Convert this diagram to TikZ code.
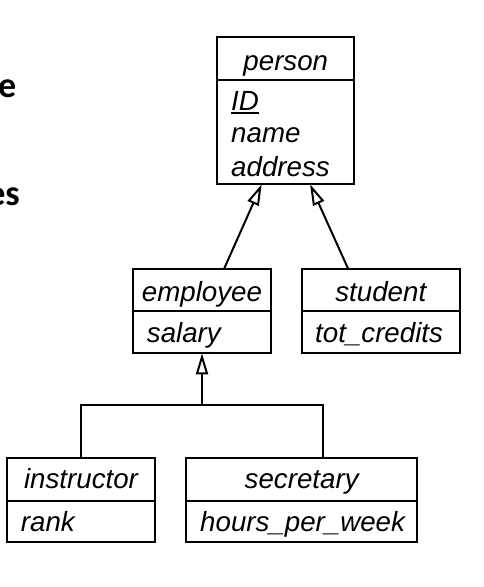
\documentclass[tikz,border=0pt]{standalone}
\usepackage{fontspec}
\setmainfont{Liberation Sans}
\newfontfamily\slidefont{Carlito}
\usetikzlibrary{arrows.meta,calc}

\newcommand\umlfont{\fontsize{27.7}{33}\selectfont\itshape}

\tikzset{
  classbox/.style={draw, line width=2pt, inner sep=0pt, outer sep=0pt, anchor=north west},
  title/.style={font=\umlfont, inner sep=0pt, anchor=base},
  attr/.style={font=\umlfont, inner sep=0pt, anchor=base west},
  slide/.style={font=\slidefont\bfseries\fontsize{36}{40}\selectfont, inner sep=0pt, anchor=base east},
  gen/.style={line width=2pt, -{Triangle[open, length=21pt, width=12pt]}},
  link/.style={line width=2pt},
}

\begin{document}
\begin{tikzpicture}[x=1pt, y=-1pt]
  \useasboundingbox (0,0) rectangle (483,587);

  % slide text running off the left edge
  \node[slide] (cutA) at (16.5,97.5) {e};
  \node[slide] (cutB) at (20,205) {es};

  % person
  \node[classbox, minimum width=137pt, minimum height=42.7pt] (personT) at (217.3,37.3) {};
  \node[classbox, minimum width=137pt, minimum height=104.3pt] (personA) at (217.3,80) {};
  \node[title] (personN) at (285.8,70) {person};
  \node[attr] (idN) at (231,110) {ID};
  \draw[line width=2pt] ([yshift=-3.4pt]idN.base west) -- ([yshift=-3.4pt]idN.base east);
  \node[attr] (nameN) at (231,142.5) {name};
  \node[attr] (addrN) at (231,176.5) {address};

  % employee
  \node[classbox, minimum width=137.4pt, minimum height=42pt] (empT) at (133.3,269) {};
  \node[classbox, minimum width=137.4pt, minimum height=42.3pt] (empA) at (133.3,311) {};
  \node[title] (empN) at (202,301) {employee};
  \node[attr] (salN) at (146.7,342.3) {salary};

  % student
  \node[classbox, minimum width=158.3pt, minimum height=42pt] (stuT) at (301.7,269) {};
  \node[classbox, minimum width=158.3pt, minimum height=42.3pt] (stuA) at (301.7,311) {};
  \node[title] (stuN) at (380.8,301) {student};
  \node[attr] (credN) at (315,342.3) {tot\_credits};

  % instructor
  \node[classbox, minimum width=147.4pt, minimum height=42.2pt] (instT) at (7.3,458.3) {};
  \node[classbox, minimum width=147.4pt, minimum height=41pt] (instA) at (7.3,500.5) {};
  \node[title] (instN) at (81,488.5) {instructor};
  \node[attr] (rankN) at (20.7,531.7) {rank};

  % secretary
  \node[classbox, minimum width=231.3pt, minimum height=42.2pt] (secT) at (186,458.3) {};
  \node[classbox, minimum width=231.3pt, minimum height=41pt] (secA) at (186,500.5) {};
  \node[title] (secN) at (301.7,488.5) {secretary};
  \node[attr] (hrsN) at (200,531.7) {hours\_per\_week};

  % generalisation arrows
  \draw[gen] ($(empT.north west)!0.66!(empT.north east)$)
          -- ($(personA.south west)!0.324!(personA.south east)$);
  \draw[gen] ($(stuT.north west)!0.294!(stuT.north east)$)
          -- ($(personA.south west)!0.677!(personA.south east)$);

  % shared generalisation tree
  \path (empA.south) ++(0,51.7) coordinate (split);
  \coordinate (secIn) at ($(secT.north west)!0.591!(secT.north east)$);
  \draw[gen] (split) -- (empA.south);
  \draw[link] (instT.north) |- (split) -| (secIn);
\end{tikzpicture}
\end{document}
